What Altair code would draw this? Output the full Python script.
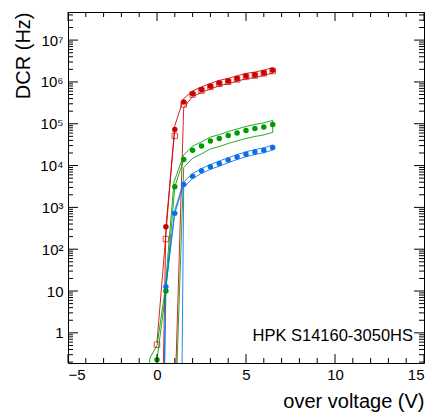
import altair as alt
import pandas as pd

# ---------------- data ----------------
red_fill_x = [0.5, 1.0, 1.5, 2.0, 2.5, 3.0, 3.5, 4.0, 4.5, 5.0, 5.5, 6.0, 6.5]
red_fill_y = [344, 72800, 331000, 525000, 655000, 790000, 940000, 1050000, 1200000, 1380000, 1480000, 1660000, 1900000]

red_sq_x = [0.0, 0.5, 1.0, 1.5, 2.0, 2.5, 3.0, 3.5, 4.0, 4.5, 5.0, 5.5, 6.0, 6.5]
red_sq_y = [0.52, 175, 51200, 290000, 500000, 620000, 760000, 900000, 1010000, 1150000, 1320000, 1420000, 1600000, 1820000]

green_x = [0.0, 0.5, 1.0, 1.5, 2.0, 2.5, 3.0, 3.5, 4.0, 4.5, 5.0, 5.5, 6.0, 6.5]
green_y = [0.227, 10, 3100, 14000, 23300, 29500, 38800, 44400, 52300, 60300, 68900, 76800, 84000, 95700]

blue_x = [0.5, 1.0, 1.5, 2.0, 2.5, 3.0, 3.5, 4.0, 4.5, 5.0, 5.5, 6.0, 6.5]
blue_y = [12.7, 719, 3540, 5590, 7480, 9310, 11200, 13500, 16100, 18700, 21200, 23300, 27000]

# band edges (upper / lower) and series lines
red_up_x = [0.0, 0.5, 1.0, 1.5, 2.0, 2.5, 3.0, 3.5, 4.0, 4.5, 5.0, 5.5, 6.0, 6.5]
red_up_y = [0.6, 230, 90000, 400000, 610000, 760000, 920000, 1090000, 1220000, 1400000, 1600000, 1720000, 1920000, 2200000]
red_dn_x = [1.0, 1.5, 2.0, 2.5, 3.0, 3.5, 4.0, 4.5, 5.0, 5.5, 6.0, 6.5]
red_dn_y = [0.02, 240000, 450000, 560000, 680000, 810000, 910000, 1040000, 1190000, 1280000, 1430000, 1640000]
red_mid_x = [0.0, 0.5, 1.0]
red_mid_y = [1e-9, 344, 72800]

green_up_x = [-0.5, -0.4, 0.0, 0.45, 0.95, 1.5, 2.0, 2.5, 3.0, 3.5, 4.0, 4.5, 5.0, 5.5, 6.0, 6.5]
green_up_y = [0.05, 0.25, 0.5, 10, 4000, 18000, 29000, 37000, 48000, 55000, 65000, 75000, 86000, 96000, 105000, 120000]
green_dn_x = [1.05, 1.5, 2.0, 2.5, 3.0, 3.5, 4.0, 4.5, 5.0, 5.5, 6.0, 6.5]
green_dn_y = [0.02, 9000, 15000, 19000, 25000, 28600, 33700, 38900, 44500, 49500, 54200, 62000]
green_mid_x = [0.0, 0.5, 1.0, 1.5]
green_mid_y = [0.227, 10, 3100, 14000]

blue_up_x = [0.4, 0.5, 1.0, 1.5, 2.0, 2.5, 3.0, 3.5, 4.0, 4.5, 5.0, 5.5, 6.0, 6.5]
blue_up_y = [0.01, 14, 850, 4100, 6400, 8500, 10600, 12800, 15400, 18300, 21300, 24100, 26500, 31000]
blue_dn_x = [1.38, 1.5, 2.0, 2.5, 3.0, 3.5, 4.0, 4.5, 5.0, 5.5, 6.0, 6.5]
blue_dn_y = [0.01, 3000, 4900, 6500, 8100, 9700, 11700, 14000, 16300, 18400, 20300, 23500]
blue_mid_x = [0.0, 0.5, 1.0, 1.5]
blue_mid_y = [1e-9, 12.7, 719, 3540]

x_major = [-5, 0, 5, 10, 15]
x_minor = [v for v in range(-4, 15) if v % 5 != 0]
y_major = [1, 10, 100, 1e3, 1e4, 1e5, 1e6, 1e7]
y_minor = [k * 10.0 ** e for e in range(-1, 8) for k in range(2, 10)]
y_minor = [v for v in y_minor if 0.19 <= v <= 4.7e7]

RED, GREEN, BLUE = "#cc0000", "#009a00", "#0a6ee6"
FONT = "Liberation Sans"

# ---------------- tables ----------------
def band(name, ux, uy, dx, dy):
    xs = list(ux) + list(reversed(dx))
    ys = list(uy) + list(reversed(dy))
    return pd.DataFrame({"x": xs, "y": ys, "s": name, "i": range(len(xs))})

def path(name, xs, ys):
    return pd.DataFrame({"x": xs, "y": ys, "s": name, "i": range(len(xs))})

lines = pd.concat([
    band("red_band", red_up_x, red_up_y, red_dn_x, red_dn_y),
    path("red_mid", red_mid_x, red_mid_y),
    band("green_band", green_up_x, green_up_y, green_dn_x, green_dn_y),
    path("green_mid", green_mid_x, green_mid_y),
    band("blue_band", blue_up_x, blue_up_y, blue_dn_x, blue_dn_y),
    path("blue_mid", blue_mid_x, blue_mid_y),
])

dots = pd.concat([
    pd.DataFrame({"x": green_x, "y": green_y, "s": "green"}),
    pd.DataFrame({"x": blue_x, "y": blue_y, "s": "blue"}),
    pd.DataFrame({"x": red_fill_x, "y": red_fill_y, "s": "red"}),
])
squares = pd.DataFrame({"x": red_sq_x, "y": red_sq_y})

W, H = 356, 351
xs = alt.Scale(domain=[-5, 15], nice=False, zero=False)
ys = alt.Scale(type="log", domain=[0.19, 4.7e7], nice=False)

sup = "['1','10','10²','10³','10⁴','10⁵','10⁶','10⁷'][round(log(datum.value)/LN10)]"

x_axis = alt.Axis(values=x_major, ticks=False, domain=False, grid=False,
                  labelFont=FONT, labelFontSize=15, labelColor="#000", labelPadding=4,
                  title="over voltage (V)", titleFont=FONT, titleFontSize=20,
                  titleFontWeight="normal", titleColor="#000",
                  titleAnchor="end", titleAlign="right", titleX=W, titleY=44,
                  titleBaseline="alphabetic")
y_axis = alt.Axis(values=y_major, ticks=False, domain=False, grid=False,
                  labelExpr=sup, labelFont=FONT, labelFontSize=15, labelColor="#000",
                  labelPadding=5,
                  title="DCR (Hz)", titleFont=FONT, titleFontSize=20,
                  titleFontWeight="normal", titleColor="#000",
                  titleAngle=-90, titleAlign="right", titleX=-39, titleY=0,
                  titleBaseline="alphabetic")

line_layer = alt.Chart(lines).mark_line(clip=True, strokeWidth=1, opacity=0.85).encode(
    x=alt.X("x:Q", scale=xs, axis=x_axis),
    y=alt.Y("y:Q", scale=ys, axis=y_axis),
    color=alt.Color("s:N", scale=alt.Scale(
        domain=["red_band", "red_mid", "green_band", "green_mid", "blue_band", "blue_mid"],
        range=[RED, RED, GREEN, GREEN, BLUE, BLUE]), legend=None),
    detail="s:N",
    order="i:Q",
)

dot_layer = alt.Chart(dots).mark_circle(size=30, opacity=1, clip=True).encode(
    x=alt.X("x:Q", scale=xs),
    y=alt.Y("y:Q", scale=ys),
    color=alt.Color("s:N", scale=alt.Scale(domain=["red", "green", "blue"],
                                           range=[RED, GREEN, BLUE]), legend=None),
)

sq_layer = alt.Chart(squares).mark_point(shape="square", filled=False, size=30,
                                         color=RED, strokeWidth=1, clip=True).encode(
    x=alt.X("x:Q", scale=xs),
    y=alt.Y("y:Q", scale=ys),
)

def xticks(vals, length):
    df = pd.DataFrame({"x": vals})
    b = alt.Chart(df).mark_rule(color="#000", strokeWidth=1).encode(
        x=alt.X("x:Q", scale=xs), y=alt.value(H), y2=alt.value(H - length))
    t = alt.Chart(df).mark_rule(color="#000", strokeWidth=1).encode(
        x=alt.X("x:Q", scale=xs), y=alt.value(0), y2=alt.value(length))
    return [b, t]

def yticks(vals, length):
    df = pd.DataFrame({"y": vals})
    l = alt.Chart(df).mark_rule(color="#000", strokeWidth=1).encode(
        y=alt.Y("y:Q", scale=ys), x=alt.value(0), x2=alt.value(length))
    r = alt.Chart(df).mark_rule(color="#000", strokeWidth=1).encode(
        y=alt.Y("y:Q", scale=ys), x=alt.value(W), x2=alt.value(W - length))
    return [l, r]

tick_layers = xticks(x_major, 9) + xticks(x_minor, 5) + yticks(y_major, 10) + yticks(y_minor, 5)

label = alt.Chart(pd.DataFrame({"t": ["HPK S14160-3050HS"]})).mark_text(
    font=FONT, fontSize=16.5, align="right", baseline="alphabetic", color="#000"
).encode(text="t:N", x=alt.value(345), y=alt.value(329))

chart = alt.layer(line_layer, dot_layer, sq_layer, *tick_layers, label).properties(
    width=W, height=H,
    autosize=alt.AutoSizeParams(type="none"),
    padding={"left": 68, "top": 12, "right": 12, "bottom": 54},
    background="white",
).configure_view(stroke="#000", strokeWidth=1).resolve_scale(color="independent")

chart.save("out.html", embed_options={"renderer": "svg", "actions": False})
